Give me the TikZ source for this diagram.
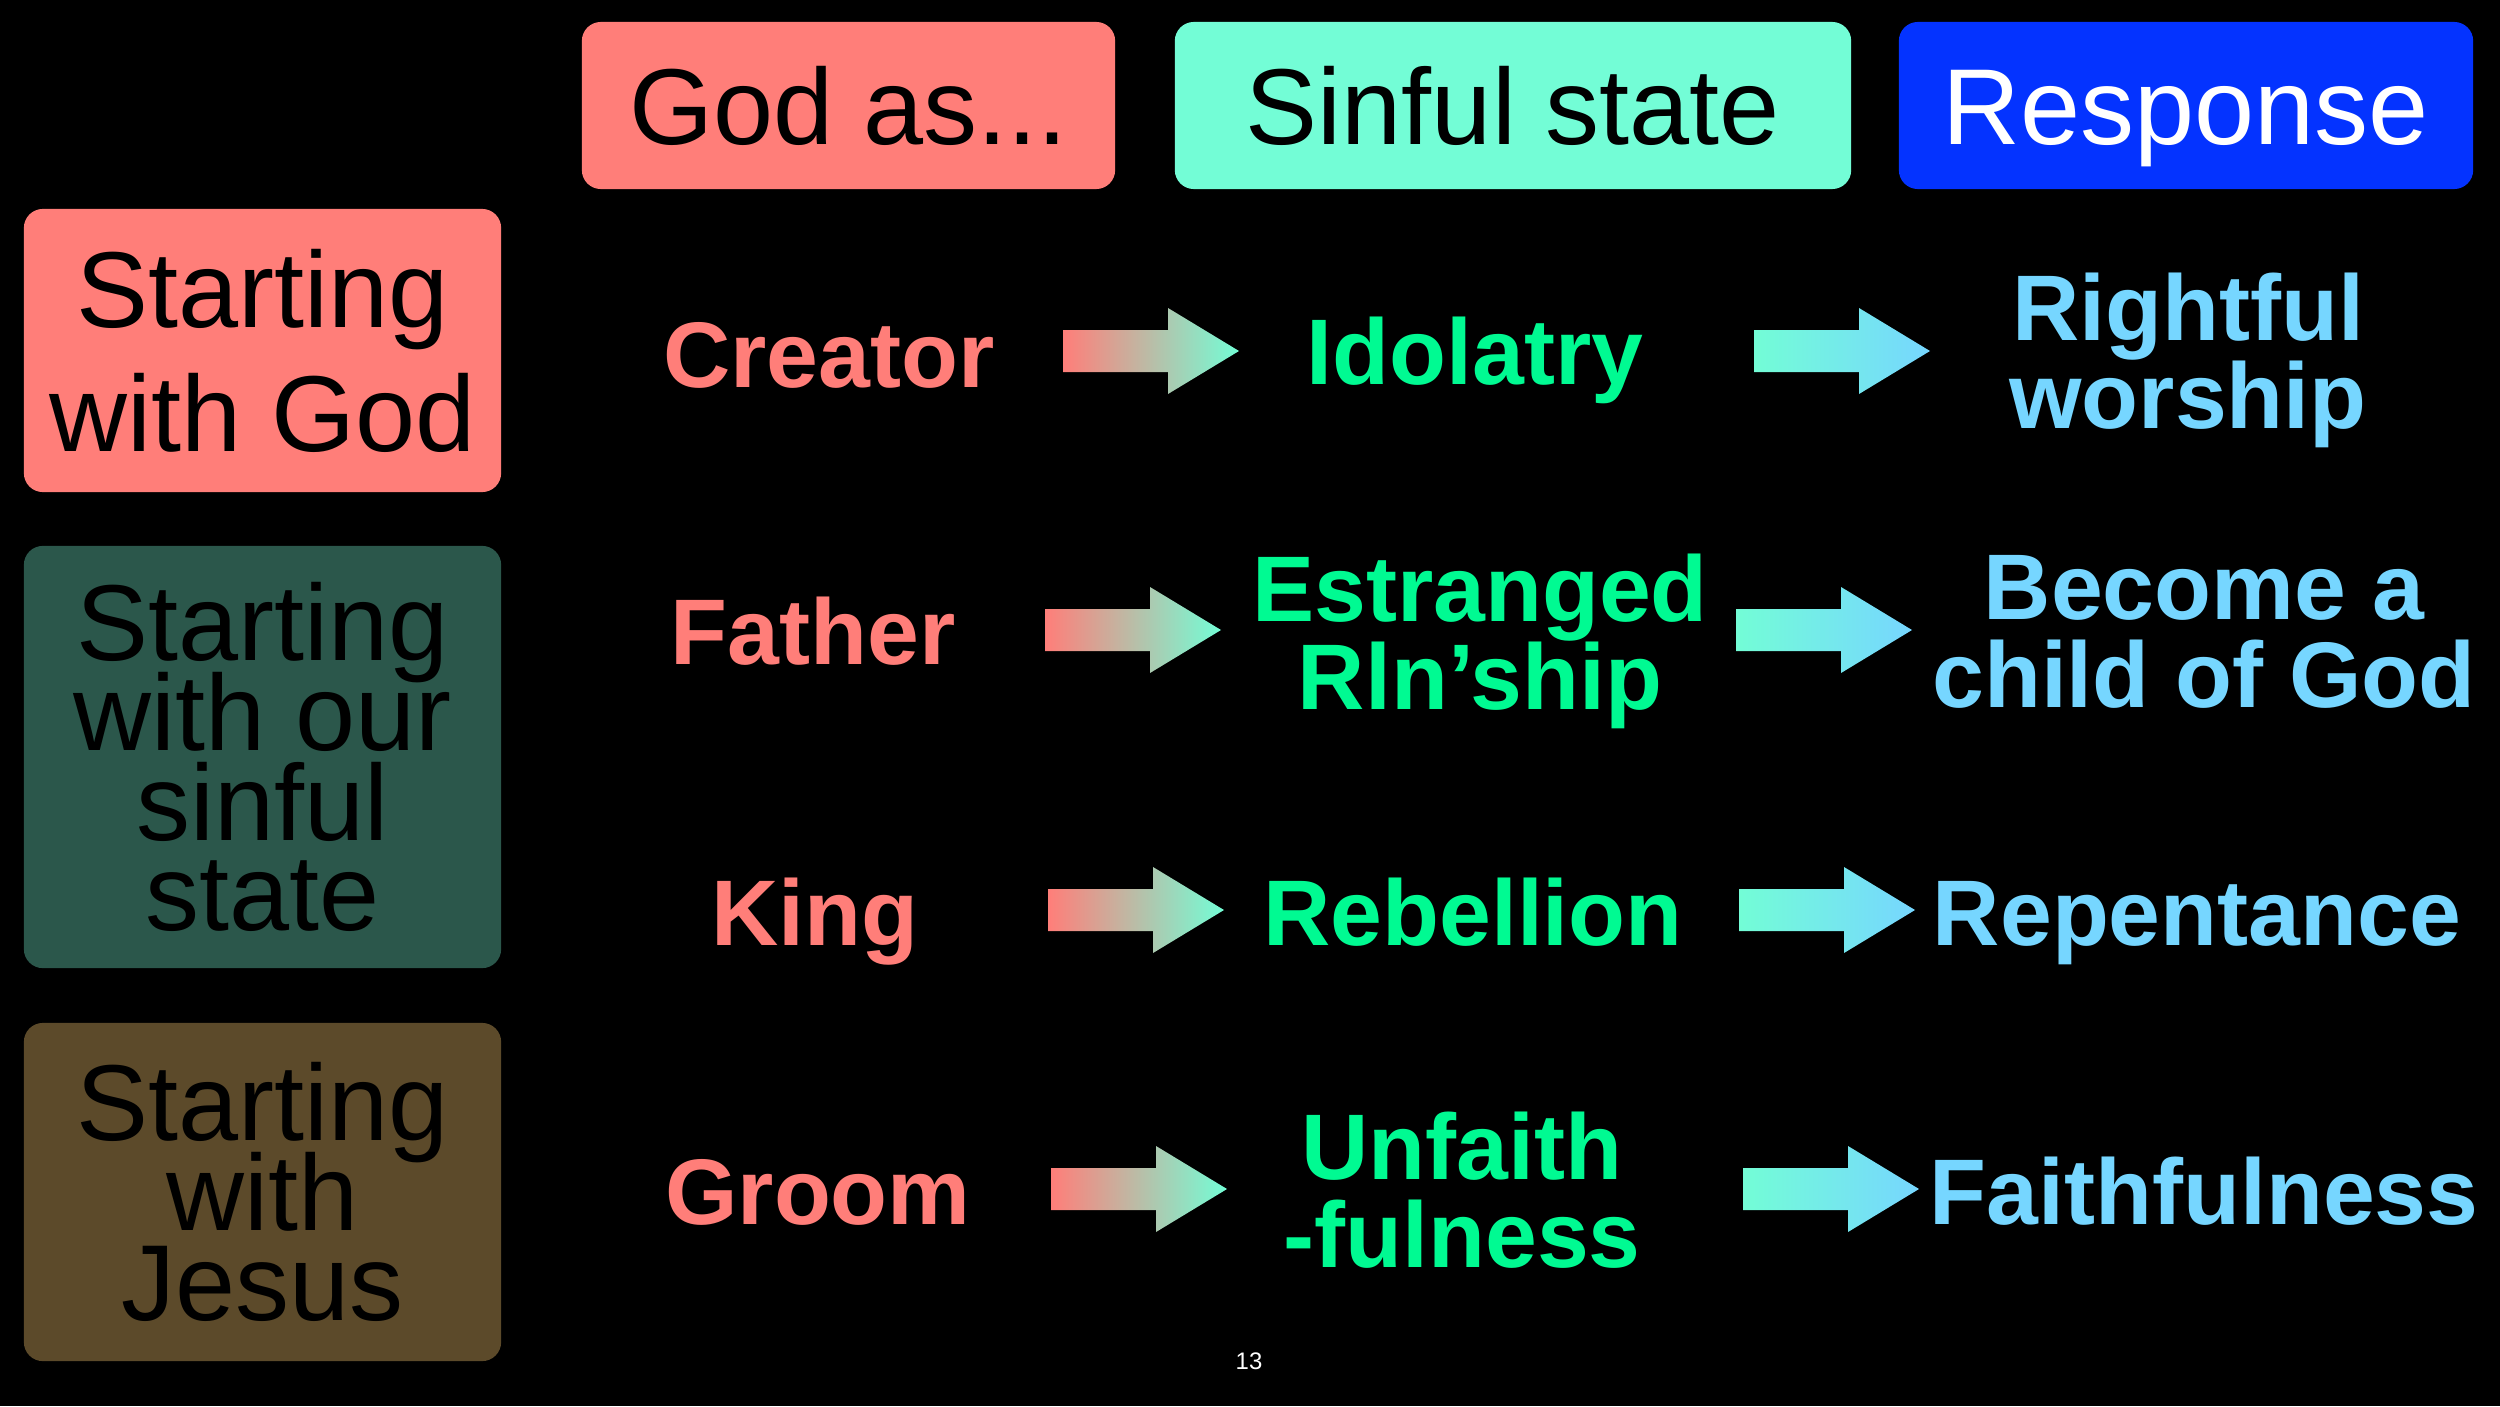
\documentclass[tikz,border=0pt]{standalone}
\usepackage{fontspec}
\setmainfont{Liberation Sans}
\definecolor{salmon}{HTML}{FF7E79}
\definecolor{aqua}{HTML}{73FDD6}
\definecolor{royal}{HTML}{0433FF}
\definecolor{seafoam}{HTML}{00FA92}
\definecolor{sky}{HTML}{76D6FF}
\definecolor{dgreen}{HTML}{2B574B}
\definecolor{dbrown}{HTML}{5C4A2A}
\newcommand{\tightlines}{\lineskiplimit=-100pt\relax\lineskip=0pt\relax}
\begin{document}
\begin{tikzpicture}[x=0.01cm,y=-0.01cm,
  hdr/.style={rounded corners=0.19cm, inner sep=0pt, minimum height=1.67cm,
    font=\fontsize{30.7}{35}\selectfont, text height=22pt, text depth=0pt},
  side/.style={rounded corners=0.19cm, inner sep=0pt, minimum width=4.77cm,
    align=center, text=black},
  one/.style={inner sep=0pt, font=\fontsize{26.5}{25}\selectfont\bfseries,
    text height=19pt, text depth=0pt},
  two/.style={inner sep=0pt, align=center,
    font=\fontsize{26.5}{25}\selectfont\bfseries\tightlines},
  arrA/.style={left color=salmon, right color=aqua},
  arrB/.style={left color=aqua, right color=sky}]
\fill[black] (0,0) rectangle (2500,1406);
\useasboundingbox (0,0) rectangle (2500,1406);
% header boxes
\node[hdr, fill=salmon, minimum width=5.33cm] (hgod) at (848.5,105.5) {God as...};
\node[hdr, fill=aqua, minimum width=6.76cm] (hsin) at (1513,105.5) {Sinful state};
\node[hdr, fill=royal, minimum width=5.74cm, text=white] (hres) at (2186,105.5) {Response};
% side boxes
\node[side, fill=salmon, minimum height=2.83cm,
  font=\fontsize{30.7}{35.3}\selectfont\tightlines] (sgod) at (262.5,350.5) {Starting\\with God};
\node[side, fill=dgreen, minimum height=4.22cm,
  font=\fontsize{30.7}{25.6}\selectfont\tightlines] (ssin) at (262.5,757) {Starting\\with our\\sinful\\state};
\node[side, fill=dbrown, minimum height=3.38cm,
  font=\fontsize{30.7}{25.6}\selectfont\tightlines] (sjes) at (262.5,1192) {Starting\\with\\Jesus};
% column 1
\node[one, text=salmon] (c1) at (829,354) {Creator};
\node[one, text=salmon] (c2) at (813,631) {Father};
\node[one, text=salmon] (c3) at (815,912) {King};
\node[one, text=salmon] (c4) at (818,1191) {Groom};
% column 2
\node[one, text=seafoam] (s1) at (1475,351) {Idolatry};
\node[two, text=seafoam] (s2) at (1480,641) {Estranged\\Rln’ship};
\node[one, text=seafoam] (s3) at (1473,912) {Rebellion};
\node[two, text=seafoam] (s4) at (1462,1190) {Unfaith\\-fulness};
% column 3
\node[two, text=sky] (r1) at (2188,360) {Rightful\\worship};
\node[two, text=sky] (r2) at (2204,632) {Become a\\child of God};
\node[one, text=sky] (r3) at (2197,912) {Repentance};
\node[one, text=sky] (r4) at (2204,1191) {Faithfulness};
% arrows
\coordinate (a1) at (1063,351); \coordinate (b1) at (1754,351);
\coordinate (a2) at (1045,630); \coordinate (b2) at (1736,630);
\coordinate (a3) at (1048,910); \coordinate (b3) at (1739,910);
\coordinate (a4) at (1051,1189); \coordinate (b4) at (1743,1189);
\foreach \p in {a1,a2,a3,a4}
  \shade[arrA] (\p) ++(0,-21) -- ++(105,0) -- ++(0,-22) -- ++(71,43) -- ++(-71,43) -- ++(0,-22) -- ++(-105,0) -- cycle;
\foreach \p in {b1,b2,b3,b4}
  \shade[arrB] (\p) ++(0,-21) -- ++(105,0) -- ++(0,-22) -- ++(71,43) -- ++(-71,43) -- ++(0,-22) -- ++(-105,0) -- cycle;
% page number
\node[text=white, font=\fontsize{6.8}{8}\selectfont, inner sep=0pt] (pg) at (1249,1361) {13};
\end{tikzpicture}
\end{document}
